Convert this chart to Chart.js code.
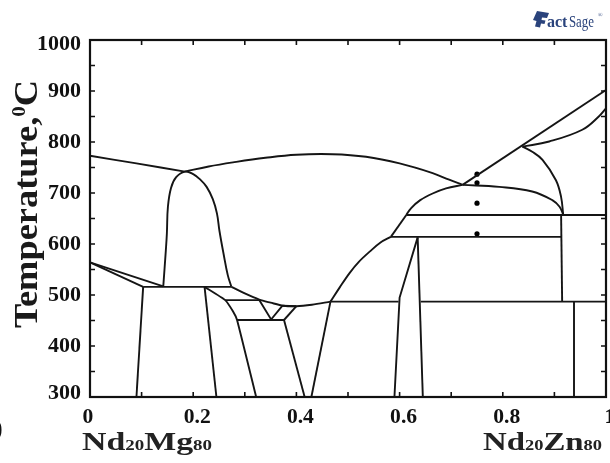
<!DOCTYPE html>
<html>
<head>
<meta charset="utf-8">
<script src="https://cdn.jsdelivr.net/npm/chart.js@4.4.1/dist/chart.umd.min.js"></script>
<style>
html,body{margin:0;padding:0;background:#fff;}
#wrap{width:610px;height:463px;position:relative;}
</style>
</head>
<body>
<div id="wrap"><canvas id="c" width="610" height="463"></canvas></div>
<script>
// ---- axis ticks ----
const xTickValues = [0, 0.2, 0.4, 0.6, 0.8, 1];
const xTickLabels = ['0', '0.2', '0.4', '0.6', '0.8', '1'];
const xTickMarks = [0.1, 0.2, 0.3, 0.4, 0.5, 0.6, 0.7, 0.8, 0.9];
const yTickValues = [300, 400, 500, 600, 700, 800, 900, 1000];
const yTickLabels = ['300', '400', '500', '600', '700', '800', '900', '1000'];
const yTickMarks = [350, 400, 450, 500, 550, 600, 650, 700, 750, 800, 850, 900, 950];

// ---- phase boundary curves [x (mole fraction Nd20Zn80), T (°C)] ----
const liquidusMg = [[0,773],[0.09,758],[0.184,742]];
const liquidusCentral = [[0.184,742],[0.23,752],[0.277,760],[0.34,769],[0.4,775],[0.47,776],[0.535,771],[0.6,758],[0.664,739],[0.696,726],[0.722,716]];
const dome = [[0.142,517],[0.147,588],[0.149,621],[0.151,673],[0.157,710],[0.167,731],[0.184,742],[0.2,737],[0.213,727],[0.226,712],[0.238,688],[0.246,660],[0.251,625],[0.259,580],[0.267,539],[0.274,516]];
const solvusMgUpper = [[0,564],[0.142,517]];
const solvusMgLower = [[0,564],[0.103,516]];
const eutectic516 = [[0.103,516],[0.274,516]];
const boundaryA = [[0.103,516],[0.090,300]];
const boundaryB = [[0.222,516],[0.245,300]];
const boundaryC = [[0.222,516],[0.262,490],[0.277,468],[0.285,451],[0.322,300]];
const liquidusLow = [[0.274,516],[0.3,503],[0.328,491],[0.35,485],[0.375,479],[0.4,478],[0.43,481],[0.466,487]];
const peritectic490 = [[0.262,490],[0.328,490]];
const vShape = [[0.328,490],[0.351,452],[0.373,479]];
const peritectic451 = [[0.285,451],[0.376,451]];
const boundaryD = [[0.376,451],[0.4,478]];
const peritectic478 = [[0.373,479],[0.4,478]];
const boundaryE = [[0.376,451],[0.416,300]];
const boundaryF = [[0.429,300],[0.466,487]];
const eutectic487a = [[0.466,487],[0.598,487]];
const liquidusZnA = [[0.466,487],[0.484,515],[0.503,543],[0.521,565],[0.542,585],[0.563,603],[0.583,614]];
const liquidusZnB = [[0.583,614],[0.613,657]];
const liquidusZnC = [[0.613,657],[0.622,670],[0.64,686],[0.664,699],[0.69,709],[0.722,716]];
const peritectic614 = [[0.583,614],[0.913,614]];
const boundaryG = [[0.59,300],[0.6,495],[0.635,613]];
const boundaryH = [[0.635,613],[0.645,300]];
const eutectic487b = [[0.641,487],[1,487]];
const boundaryI = [[0.913,657],[0.915,487]];
const boundaryJ = [[0.938,487],[0.938,300]];
const peritectic657 = [[0.613,657],[1,657]];
const curveUnder = [[0.722,716],[0.793,712],[0.857,703],[0.896,686],[0.91,673],[0.917,658]];
const liquidusZnLine = [[0.722,716],[1,902]];
const curveUpper = [[0.838,791],[0.89,801],[0.954,824],[0.986,850],[1,866]];
const curveDown = [[0.838,791],[0.857,781],[0.877,765],[0.903,725],[0.913,692],[0.917,658]];

// ---- experimental points ----
const expX = [0.75, 0.75, 0.75, 0.75];
const expT = [737, 720, 680, 620];

const curves = [
  [liquidusMg, 0.2], [liquidusCentral, 0.4], [dome, 0.4], [solvusMgUpper, 0], [solvusMgLower, 0],
  [eutectic516, 0], [boundaryA, 0], [boundaryB, 0], [boundaryC, 0.15], [liquidusLow, 0.3],
  [peritectic490, 0], [vShape, 0], [peritectic451, 0], [boundaryD, 0], [peritectic478, 0],
  [boundaryE, 0], [boundaryF, 0], [eutectic487a, 0], [liquidusZnA, 0.35], [liquidusZnB, 0],
  [liquidusZnC, 0.35], [peritectic614, 0], [boundaryG, 0], [boundaryH, 0], [eutectic487b, 0],
  [boundaryI, 0], [boundaryJ, 0], [peritectic657, 0], [curveUnder, 0.4], [liquidusZnLine, 0],
  [curveUpper, 0.4], [curveDown, 0.4]
];

const LINE = '#151515';
const datasets = curves.map(([pts, t]) => ({
  data: pts.map(([x, y]) => ({x, y})),
  showLine: true, pointRadius: 0, borderColor: LINE, borderWidth: 1.9,
  tension: t, fill: false, clip: 3
}));
datasets.push({
  data: expX.map((x, i) => ({x, y: expT[i]})),
  showLine: false, pointRadius: 2.6, pointBackgroundColor: '#000', pointBorderWidth: 0
});

const SERIF = '"Liberation Serif", "Times New Roman", serif';

function drawParts(ctx, parts, x0, baseline, targetW) {
  let w = 0;
  parts.forEach(p => { ctx.font = 'bold ' + p[1] + 'px ' + SERIF; p.w = ctx.measureText(p[0]).width; w += p.w; });
  const s = targetW / w;
  ctx.save();
  ctx.translate(x0, baseline);
  ctx.scale(s, 1);
  let cx = 0;
  ctx.textAlign = 'left'; ctx.textBaseline = 'alphabetic';
  parts.forEach(p => {
    ctx.font = 'bold ' + p[1] + 'px ' + SERIF;
    ctx.fillText(p[0], cx, -(p[2] || 0));
    cx += p.w;
  });
  ctx.restore();
}

const framePlugin = {
  id: 'frame',
  afterDraw(chart) {
    const ctx = chart.ctx, xs = chart.scales.x, ys = chart.scales.y;
    const L = xs.getPixelForValue(0), R = xs.getPixelForValue(1);
    const T = ys.getPixelForValue(1000), B = ys.getPixelForValue(300);
    ctx.save();
    ctx.strokeStyle = '#111'; ctx.lineWidth = 2.2;
    ctx.strokeRect(L, T, R - L, B - T);
    ctx.lineWidth = 1.6;
    ctx.beginPath();
    xTickMarks.forEach(v => {
      const px = xs.getPixelForValue(v);
      ctx.moveTo(px, B); ctx.lineTo(px, B - 5);
      ctx.moveTo(px, T); ctx.lineTo(px, T + 5);
    });
    yTickMarks.forEach(v => {
      const py = ys.getPixelForValue(v);
      ctx.moveTo(L, py); ctx.lineTo(L + 5, py);
      ctx.moveTo(R, py); ctx.lineTo(R - 5, py);
    });
    ctx.stroke();

    ctx.fillStyle = '#111';
    // y tick labels
    yTickValues.forEach((v, i) => {
      let py = ys.getPixelForValue(v);
      if (v === 1000) py += 4;
      if (v === 300) py -= 4;
      ctx.save();
      ctx.translate(81, py);
      ctx.scale(1.1, 1);
      ctx.font = 'bold 20px ' + SERIF;
      ctx.textAlign = 'right'; ctx.textBaseline = 'middle';
      ctx.fillText(yTickLabels[i], 0, 1);
      ctx.restore();
    });
    // x tick labels
    xTickValues.forEach((v, i) => {
      const px = xs.getPixelForValue(v) + (v === 0 ? -2 : 4);
      ctx.save();
      ctx.translate(px, 418);
      ctx.scale(1.08, 1);
      ctx.font = 'bold 20px ' + SERIF;
      ctx.textAlign = 'center'; ctx.textBaseline = 'middle';
      ctx.fillText(xTickLabels[i], 0, 0);
      ctx.restore();
    });
    // component labels
    ctx.fillStyle = '#222';
    drawParts(ctx, [['Nd',25],['20',14],['Mg',25],['80',14]], 82, 450, 130);
    drawParts(ctx, [['Nd',25],['20',14],['Zn',25],['80',14]], 483, 450, 119);
    // y title
    ctx.save();
    ctx.translate(37, 328);
    ctx.rotate(-Math.PI / 2);
    ctx.fillStyle = '#1a1a1a';
    drawParts(ctx, [['Temperature,',33],['0',19,12],['C',33]], 0, 0, 248);
    ctx.restore();
    // cut-off panel letter
    ctx.font = 'bold 26px ' + SERIF;
    ctx.textAlign = 'left'; ctx.textBaseline = 'alphabetic';
    ctx.fillStyle = '#111';
    ctx.fillText(')', -6, 436);
    // FactSage logo
    ctx.fillStyle = '#2a437c';
    ctx.save();
    ctx.translate(533, 11);
    ctx.beginPath();
    ctx.moveTo(4, 0); ctx.lineTo(16, 2); ctx.lineTo(14, 7); ctx.lineTo(9, 6.5); ctx.lineTo(8.5, 9);
    ctx.lineTo(12.5, 9.5); ctx.lineTo(11.5, 13); ctx.lineTo(8, 12.5); ctx.lineTo(7, 16.5); ctx.lineTo(2, 15.5);
    ctx.lineTo(3.5, 10); ctx.lineTo(0, 9); ctx.closePath();
    ctx.fill();
    ctx.restore();
    ctx.font = 'bold 16px ' + SERIF;
    ctx.textBaseline = 'alphabetic';
    ctx.fillText('act', 547, 27);
    ctx.save();
    ctx.translate(569, 27);
    ctx.scale(0.8, 1);
    ctx.font = '16px ' + SERIF;
    ctx.fillText('Sage', 0, 0);
    ctx.restore();
    ctx.font = '6px ' + SERIF;
    ctx.fillText('®', 598, 17);
    ctx.restore();
  }
};

new Chart(document.getElementById('c'), {
  type: 'scatter',
  data: { datasets },
  options: {
    responsive: false, animation: false,
    layout: { padding: { left: 90, right: 3, top: 40, bottom: 66 } },
    plugins: { legend: { display: false }, tooltip: { enabled: false } },
    scales: {
      x: { type: 'linear', min: 0, max: 1, display: false },
      y: { type: 'linear', min: 300, max: 1000, display: false }
    }
  },
  plugins: [framePlugin]
});
</script>
</body>
</html>
